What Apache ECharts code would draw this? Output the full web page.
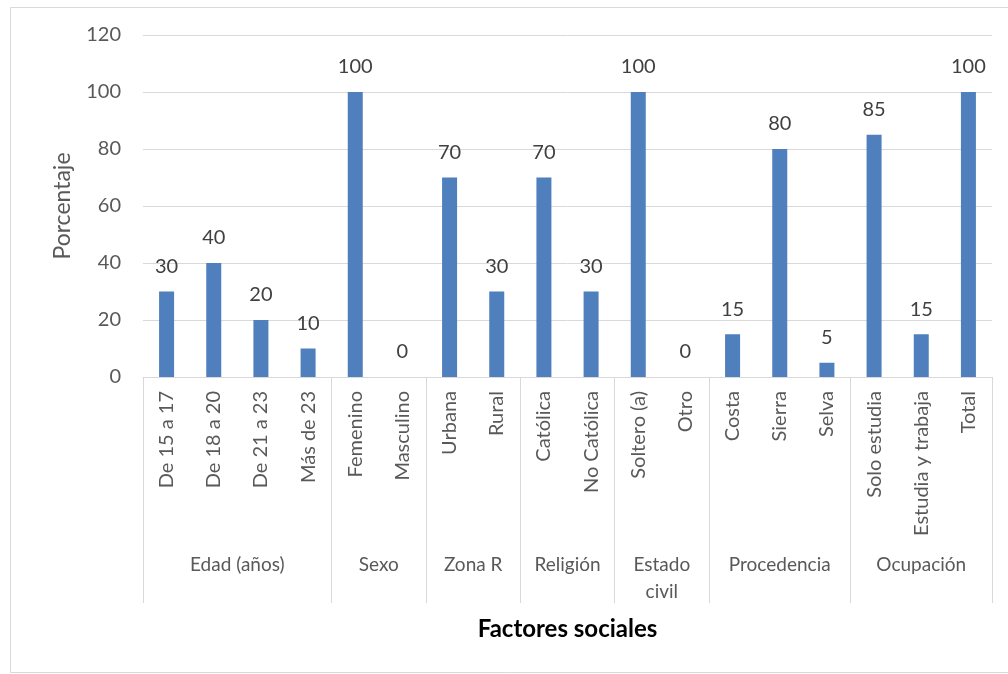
<!DOCTYPE html>
<html>
<head>
<meta charset="utf-8">
<script src="https://cdn.jsdelivr.net/npm/echarts@6/dist/echarts.min.js"></script>
<style>
  html, body { margin: 0; padding: 0; background: #fff; }
  #chart { width: 1008px; height: 674px; }
</style>
</head>
<body>
<div id="chart"></div>
<script>
// categories and values
var categories = ['De 15 a 17', 'De 18 a 20', 'De 21 a 23', 'Más de 23',
  'Femenino', 'Masculino', 'Urbana', 'Rural', 'Católica', 'No Católica',
  'Soltero (a)', 'Otro', 'Costa', 'Sierra', 'Selva',
  'Solo estudia', 'Estudia y trabaja', 'Total'];
var values = [30, 40, 20, 10, 100, 0, 70, 30, 70, 30, 100, 0, 15, 80, 5, 85, 15, 100];
var groups = ['Edad (años)', 'Sexo', 'Zona R', 'Religión', 'Estado civil', 'Procedencia', 'Ocupación'];
var groupSizes = [4, 2, 2, 2, 2, 3, 3];
var yTicks = [0, 20, 40, 60, 80, 100, 120];

// group boundaries and centres, in category units
var bounds = [0];
var centers = [];
groupSizes.forEach(function (n, i) {
  centers.push(bounds[i] + n / 2);
  bounds.push(bounds[i] + n);
});

var gray = '#595959';
var lineGray = '#d9d9d9';
var font = 'Lato';

var myChart = echarts.init(document.getElementById('chart'));

var option = {
  animation: false,
  textStyle: { fontFamily: font },
  graphic: [{
    type: 'rect',
    shape: { x: 10.5, y: 7.5, width: 1010, height: 665 },
    style: { fill: 'none', stroke: lineGray, lineWidth: 1 },
    silent: true
  }],
  grid: { left: 143, right: 16, top: 35, bottom: 297 },
  xAxis: [{
    type: 'category',
    data: categories,
    axisLine: { lineStyle: { color: lineGray, width: 1 } },
    axisTick: { show: false },
    axisLabel: {
      rotate: 90,
      interval: 0,
      margin: 14,
      fontSize: 20,
      color: gray,
      fontFamily: font
    },
    name: 'Factores sociales',
    nameLocation: 'middle',
    nameGap: 240,
    nameTextStyle: { fontSize: 24, fontWeight: 'bold', color: '#000', fontFamily: font }
  }, {
    type: 'value',
    min: 0,
    max: 18,
    position: 'bottom',
    axisLine: { show: false },
    splitLine: { show: false },
    axisTick: {
      show: true,
      customValues: bounds,
      length: 226,
      lineStyle: { color: lineGray, width: 1 }
    },
    axisLabel: {
      customValues: centers,
      margin: 174,
      fontSize: 19,
      color: gray,
      lineHeight: 27,
      verticalAlign: 'top',
      fontFamily: font,
      formatter: function (v) {
        var i = centers.indexOf(v);
        var name = groups[i] || '';
        if (groupSizes[i] <= 2 && name.length > 10) {
          name = name.replace(' ', '\n');
        }
        return name;
      }
    }
  }],
  yAxis: {
    type: 'value',
    min: yTicks[0],
    max: yTicks[yTicks.length - 1],
    interval: 20,
    axisLine: { show: false },
    axisTick: { show: false },
    splitLine: { lineStyle: { color: lineGray, width: 1 } },
    axisLabel: { fontSize: 20, color: gray, margin: 22, fontFamily: font },
    name: 'Porcentaje',
    nameLocation: 'middle',
    nameGap: 69,
    nameTextStyle: { fontSize: 23, color: gray, fontFamily: font }
  },
  series: [{
    type: 'bar',
    data: values,
    barWidth: 15,
    itemStyle: { color: '#4f7fbc' },
    label: {
      show: true,
      position: 'top',
      distance: 15,
      fontSize: 20,
      color: '#404040',
      fontFamily: font
    }
  }]
};

myChart.setOption(option);
</script>
</body>
</html>
